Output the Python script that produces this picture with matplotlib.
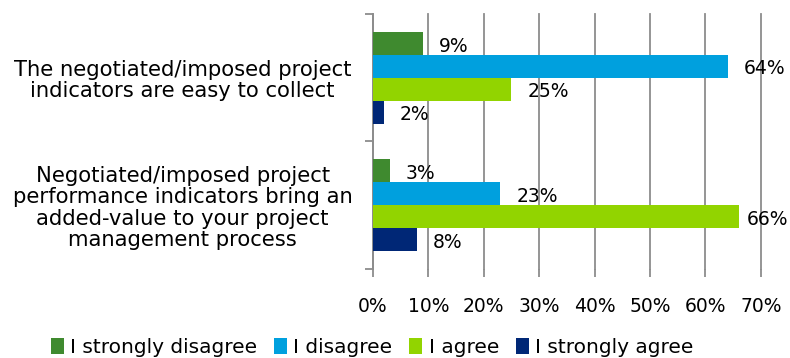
import matplotlib
matplotlib.use("Agg")
import matplotlib.pyplot as plt
import numpy as np

plt.rcParams['font.family'] = ['DejaVu Sans']

categories = [
    "The negotiated/imposed project\nindicators are easy to collect",
    "Negotiated/imposed project\nperformance indicators bring an\nadded-value to your project\nmanagement process",
]
series_names = ["I strongly disagree", "I disagree", "I agree", "I strongly agree"]
strongly_disagree = [9, 3]
disagree = [64, 23]
agree = [25, 66]
strongly_agree = [2, 8]
series_values = [strongly_disagree, disagree, agree, strongly_agree]
colors = ["#3F8A2F", "#00A0DE", "#92D400", "#002776"]
x_ticks = [0, 10, 20, 30, 40, 50, 60, 70]
x_tick_labels = [f"{t}%" for t in x_ticks]

fig = plt.figure(figsize=(7.9, 3.58), dpi=100)
ax = fig.add_axes([0.472, 0.249, 0.491, 0.712])

centers = np.array([1.0, 0.0])
bar_h = 0.18
offsets = [1.5 * bar_h, 0.5 * bar_h, -0.5 * bar_h, -1.5 * bar_h]

grid_color = "#8C8C8C"
ax.set_axisbelow(True)
value_labels = []
for name, vals, col, off in zip(series_names, series_values, colors, offsets):
    ypos = centers + off
    ax.barh(ypos, vals, height=bar_h, color=col, label=name, zorder=3)
    for y, v in zip(ypos, vals):
        t = ax.annotate(f"{v}%", xy=(v, y), xytext=(11.5, -2), textcoords="offset points",
                        ha="left", va="center", fontsize=13.5, color="black")
        value_labels.append(t)

ax.set_xlim(0, 70)
ax.set_ylim(-0.5, 1.5)
ax.set_xticks(x_ticks)
ax.set_xticklabels(x_tick_labels, fontsize=13.5)
ax.xaxis.grid(True, color=grid_color, linewidth=1.3, zorder=0)
for gl in ax.get_xgridlines():
    gl.set_clip_on(False)
ax.tick_params(axis="x", direction="out", length=6, width=1.3, color=grid_color, pad=14)

ax.set_yticks([-0.5, 0.5, 1.5])
ax.set_yticklabels([])
ax.set_yticks(centers, minor=True)
ax.set_yticklabels(categories, minor=True, fontsize=15.2, ha="center", linespacing=1.1)
ax.tick_params(axis="y", which="major", direction="out", length=6, width=1.3, color=grid_color)
ax.tick_params(axis="y", which="minor", length=0, pad=137)

for side in ["top", "right", "bottom"]:
    ax.spines[side].set_visible(False)
ax.spines["left"].set_color(grid_color)
ax.spines["left"].set_linewidth(1.3)

fig.legend(loc="center", bbox_to_anchor=(0.471, 0.03), ncol=4, frameon=False,
           fontsize=14.5, handlelength=0.65, handleheight=0.85, handletextpad=0.3,
           columnspacing=0.85, borderpad=0)

# keep value labels inside the figure
fig.canvas.draw()
renderer = fig.canvas.get_renderer()
fig_w = fig.bbox.width
for t in value_labels:
    bb = t.get_window_extent(renderer)
    excess = bb.x1 - (fig_w - 2)
    if excess > 0:
        dx, dy = t.xyann
        t.xyann = (dx - excess * 72 / fig.dpi, dy)

fig.savefig("out.png", dpi=100)
